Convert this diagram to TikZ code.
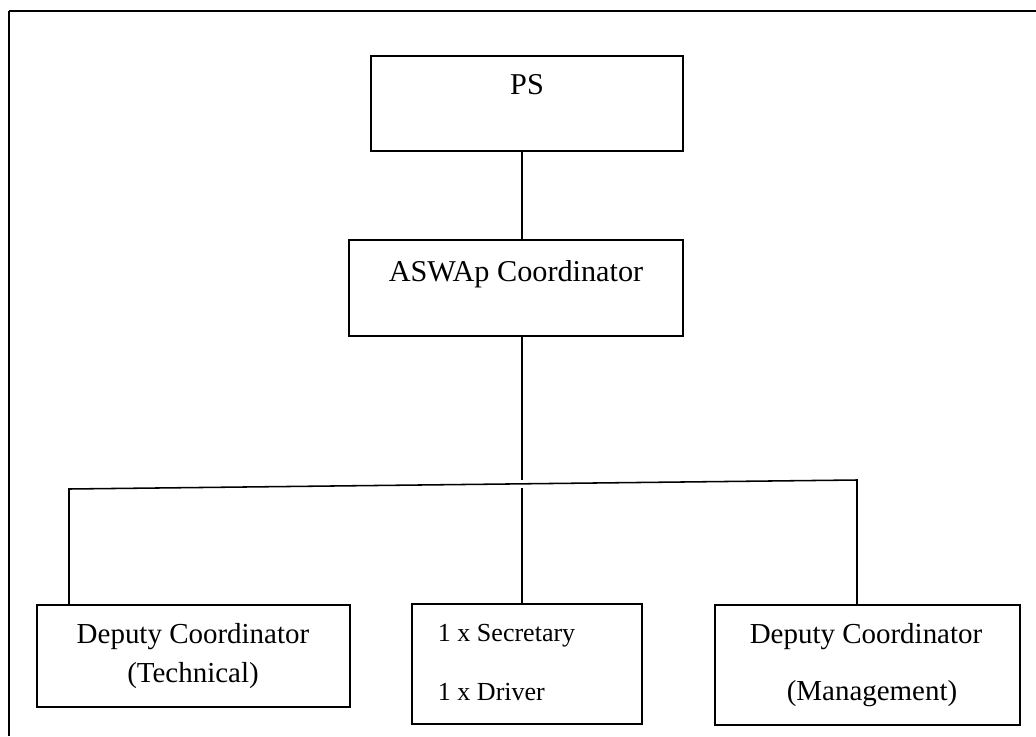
\documentclass[tikz,border=0pt]{standalone}
\usepackage{fontspec}
\setmainfont{Liberation Serif}

\begin{document}
\begin{tikzpicture}[x=0.025cm,y=-0.025cm,
	box/.style={shape=rectangle,draw=black,line width=1.1pt,inner sep=0pt},
	link/.style={-,line width=1.1pt},
	big/.style={font=\fontsize{21.5}{26}\selectfont},
	mid/.style={font=\fontsize{20.6}{25}\selectfont},
	small/.style={font=\fontsize{18.5}{22}\selectfont}]

	\useasboundingbox (0,0) rectangle (1036,736);

	% outer frame
	\draw[line width=1.7pt] (9,11) -- (1036,11);
	\draw[line width=1.1pt] (9,11) -- (9,736);

	\node[box,minimum width=7.8cm,minimum height=2.375cm] (ps) at (527,103.5) {};
	\node[box,minimum width=8.35cm,minimum height=2.4cm] (aswap) at (516,288) {};
	\node[box,minimum width=7.825cm,minimum height=2.55cm] (tech) at (193.5,656) {};
	\node[box,minimum width=5.75cm,minimum height=3cm] (sec) at (527,664) {};
	\node[box,minimum width=7.625cm,minimum height=3cm] (mgmt) at (867.5,665) {};

	\node[big,anchor=base] (pstxt) at (527,94) {PS};
	\node[big,anchor=base] (aswaptxt) at (516,281) {ASWAp Coordinator};
	\node[mid,anchor=base] (techA) at (193,643) {Deputy Coordinator};
	\node[mid,anchor=base] (techB) at (193,682) {(Technical)};
	\node[small,anchor=base west] (secA) at (433,641) {1 x Secretary};
	\node[small,anchor=base west] (secB) at (433,700) {1 x Driver};
	\node[mid,anchor=base] (mgmtA) at (866,643) {Deputy Coordinator};
	\node[mid,anchor=base] (mgmtB) at (872,700) {(Management)};

	\coordinate (lbus) at (69,489);
	\coordinate (rbus) at (857,480);
	\coordinate (trunk) at (522,480);
	\coordinate (drop) at (522,488);

	\draw[link] (ps.south -| trunk) -- (aswap.north -| trunk);
	\draw[link] (aswap.south -| trunk) -- (trunk);
	\draw[link] (tech.north -| lbus) -- (lbus) -- (rbus) -- (mgmt.north -| rbus);
	\draw[link] (drop) -- (sec.north -| drop);

\end{tikzpicture}
\end{document}
